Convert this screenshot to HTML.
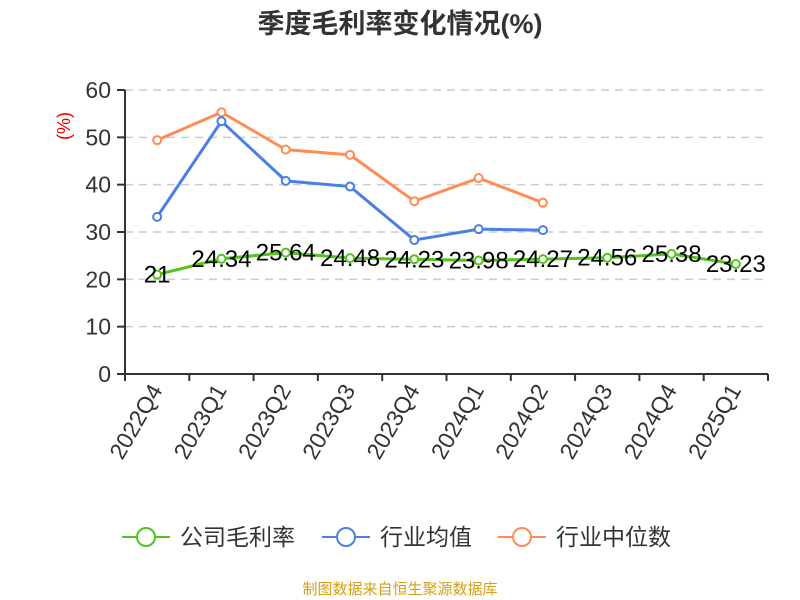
<!DOCTYPE html>
<html><head><meta charset="utf-8"><style>
body{margin:0;background:#fff;}
svg{display:block;font-family:"Liberation Sans","Noto Sans CJK SC",sans-serif;}
</style></head><body>
<svg id="c" width="800" height="600">
<text x="400" y="33" text-anchor="middle" font-size="27" font-weight="bold" fill="#333">季度毛利率变化情况(%)</text>
<text transform="translate(70,126) rotate(-90)" text-anchor="middle" font-size="18" fill="#e00">(%)</text>
<g id="grid"></g><g id="axes"></g><g id="series"></g>
<g>
<g><line x1="122" y1="537" x2="170" y2="537" stroke="#52c41a" stroke-width="2"/><circle cx="146" cy="537" r="9" fill="#fff" stroke="#52c41a" stroke-width="2"/><text x="180" y="545" font-size="23" fill="#333">公司毛利率</text></g>
<g><line x1="322" y1="537" x2="370" y2="537" stroke="#4a7fe5" stroke-width="2"/><circle cx="346" cy="537" r="9" fill="#fff" stroke="#4a7fe5" stroke-width="2"/><text x="380" y="545" font-size="23" fill="#333">行业均值</text></g>
<g><line x1="498" y1="537" x2="546" y2="537" stroke="#ff8c55" stroke-width="2"/><circle cx="522" cy="537" r="9" fill="#fff" stroke="#ff8c55" stroke-width="2"/><text x="556" y="545" font-size="23" fill="#333">行业中位数</text></g>
</g>
<text x="400" y="594" text-anchor="middle" font-size="15" fill="#d4a017">制图数据来自恒生聚源数据库</text>
</svg>
<script>
const categories=["2022Q4","2023Q1","2023Q2","2023Q3","2023Q4","2024Q1","2024Q2","2024Q3","2024Q4","2025Q1"];
const companyValues=[21,24.34,25.64,24.48,24.23,23.98,24.27,24.56,25.38,23.23];
const companyLabels=["21","24.34","25.64","24.48","24.23","23.98","24.27","24.56","25.38","23.23"];
const avgValues=[33.2,53.4,40.8,39.6,28.3,30.6,30.4];
const medianValues=[49.4,55.3,47.4,46.3,36.5,41.4,36.2];
const yTicks=[0,10,20,30,40,50,60];
const NS="http://www.w3.org/2000/svg";
const L=125,R=768,T=90,B=374,yMax=60;
const bw=(R-L)/categories.length;
const x=i=>L+bw*(i+0.5);
const y=v=>B-(v/yMax)*(B-T);
function mk(tag,attrs,parent){const e=document.createElementNS(NS,tag);for(const k in attrs)e.setAttribute(k,attrs[k]);parent.appendChild(e);return e;}
const grid=document.getElementById('grid'),axes=document.getElementById('axes'),ser=document.getElementById('series');
yTicks.forEach(t=>{
  if(t>0){const g=mk('line',{x1:L,x2:R,y1:y(t),y2:y(t),stroke:'#ccc','stroke-dasharray':'8,6','stroke-width':1.5},grid);
  
  }
  const tk=mk('line',{x1:L-8,x2:L,y1:y(t),y2:y(t),stroke:'#333','stroke-width':2},axes);
  
  
  const tx=mk('text',{x:L-14,y:y(t)+8,'text-anchor':'end','font-size':23,fill:'#333'},axes);
  tx.textContent=t;
  
  
});
const ya=mk('line',{x1:L,x2:L,y1:T,y2:B,stroke:'#333','stroke-width':2},axes);


const xa=mk('line',{x1:L,x2:R,y1:B,y2:B,stroke:'#333','stroke-width':2},axes);


for(let i=0;i<=categories.length;i++){
  const tk=mk('line',{x1:L+bw*i,x2:L+bw*i,y1:B,y2:B+7,stroke:'#333','stroke-width':2},axes);
  
  
}
categories.forEach((c,i)=>{
  const tx=mk('text',{transform:`translate(${x(i)+6},${B+16}) rotate(-60)`,'text-anchor':'end','font-size':23,fill:'#333'},axes);
  tx.textContent=c;
  
  
});
function series(vals,color,name){
  const g=mk('g',{},ser);
  
  
  const p=mk('polyline',{points:vals.map((v,i)=>x(i)+','+y(v)).join(' '),fill:'none',stroke:color,'stroke-width':3},g);
  
  
  vals.forEach((v,i)=>{
    const c=mk('circle',{cx:x(i),cy:y(v),r:4,fill:'#fff',stroke:color,'stroke-width':2},g);
    
    
  });
  return g;
}
series(medianValues,'#ff8c55','industry-median-series');
series(avgValues,'#4a7fe5','industry-avg-series');
const cg=series(companyValues,'#52c41a','company-series');
companyValues.forEach((v,i)=>{
  const t=mk('text',{x:x(i),y:y(v)+8,'text-anchor':'middle','font-size':24,fill:'#000'},cg);
  t.textContent=companyLabels[i];
  
  
});
</script>
</body></html>
